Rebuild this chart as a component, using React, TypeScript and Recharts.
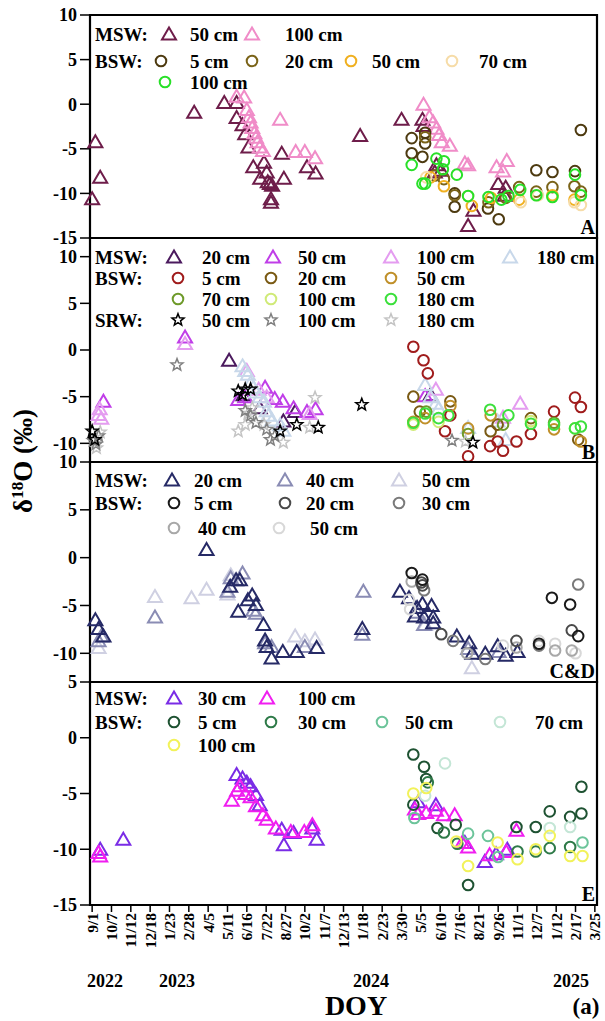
import React from "react";
import { ScatterChart, Scatter, XAxis, YAxis, ReferenceArea } from "recharts";

const FONT = '"Liberation Serif", "Times New Roman", serif';

// x = days since 9/1/2022, y = δ18O (‰)
const xTickDays = [0, 36, 72, 108, 144, 180, 216, 252, 288, 324, 360, 396, 432, 468, 504, 540, 576, 612, 648, 684, 720, 756, 792, 828, 864, 900, 936];
const xTickLabels = ["9/1", "10/7", "11/12", "12/18", "1/23", "2/28", "4/5", "5/11", "6/16", "7/22", "8/27", "10/2", "11/7", "12/13", "1/18", "2/23", "3/30", "5/5", "6/10", "7/16", "8/21", "9/26", "11/1", "12/7", "1/12", "2/17", "3/25"];
const X_DOMAIN = [-4, 940];

// ---- panel A
const aMsw50 = [[0, -10.6], [6, -4.2], [15, -8.2], [190, -0.9], [246, 0.2], [269, 0.2], [269, -1.5], [280, -2.3], [285, -3.3], [291, -4.8], [300, -7.0], [313, -8.3], [320, -6.5], [325, -7.6], [327, -8.7], [331, -8.9], [335, -9.1], [333, -10.6], [333, -11.0], [353, -5.5], [357, -8.3], [400, -7.0], [416, -7.7], [499, -3.5], [576, -1.7], [615, -1.7], [617, -2.4], [638, -7.6], [641, -6.8], [650, -7.4], [700, -13.6], [710, -11.9], [756, -8.9], [768, -10.2], [770, -9.3]];
const aMsw100 = [[269, 0.9], [283, 0.8], [288, -0.6], [292, -1.4], [295, -2.0], [298, -2.6], [302, -3.2], [305, -3.7], [308, -4.2], [312, -4.8], [318, -5.2], [350, -1.7], [379, -5.3], [396, -5.3], [415, -6.0], [617, 0.0], [628, -1.4], [635, -2.0], [641, -2.7], [646, -3.4], [651, -4.2], [666, -4.6], [694, -6.6], [700, -6.8], [753, -7.0], [765, -7.5], [772, -6.3]];
const aBsw5 = [[595, -3.8], [595, -5.5], [615, -5.9], [620, -3.2], [620, -4.4], [675, -10.0], [675, -11.5], [737, -11.7], [757, -12.9], [827, -7.4], [857, -7.6], [899, -7.5], [910, -2.9]];
const aBsw20 = [[620, -3.7], [638, -8.0], [655, -8.4], [675, -10.2], [738, -11.0], [770, -10.5], [795, -9.3], [827, -9.8], [857, -9.3], [898, -9.2], [910, -9.8]];
const aBsw50 = [[630, -8.2], [655, -9.2], [707, -11.4], [743, -10.5], [795, -10.7], [857, -10.2], [898, -10.7]];
const aBsw70 = [[622, -8.2], [700, -10.3], [798, -11.0], [830, -10.2], [898, -11.0], [910, -11.3]];
const aBsw100 = [[595, -6.8], [615, -8.9], [620, -8.9], [641, -6.1], [653, -7.3], [655, -6.4], [679, -7.9], [700, -10.3], [738, -10.4], [762, -10.7], [775, -10.3], [797, -9.6], [827, -10.2], [857, -10.4], [899, -7.9], [910, -10.2]];

// ---- panel B
const bMsw20 = [[255, -1.1], [282, -4.8], [312, -6.2], [356, -7.6], [378, -6.6], [630, -4.8]];
const bMsw50 = [[21, -5.5], [173, 1.4], [272, -5.3], [285, -5.0], [322, -4.0], [340, -5.2], [355, -5.5], [375, -6.2], [400, -6.6], [416, -6.3], [620, -4.9]];
const bMsw100 = [[12, -6.9], [14, -6.3], [17, -7.3], [173, 0.7], [288, -2.2], [310, -4.2], [325, -5.0], [405, -6.8], [640, -4.2], [765, -7.2], [797, -5.7]];
const bMsw180 = [[280, -1.7], [285, -2.2], [290, -2.6], [295, -3.5], [300, -4.0], [305, -4.5], [312, -5.0], [320, -5.5], [325, -6.5], [328, -7.0], [335, -7.5], [350, -8.0], [356, -8.6], [620, -3.7], [630, -5.0], [640, -5.7], [645, -6.3], [700, -8.3], [755, -7.6], [770, -9.6]];
const bBsw5 = [[598, 0.35], [617, -1.1], [625, -2.5], [657, -8.7], [667, -7.0], [700, -11.4], [741, -10.3], [755, -9.8], [765, -10.8], [790, -9.8], [817, -9.0], [860, -6.6], [899, -5.1], [910, -6.1]];
const bBsw20 = [[598, -5.0], [610, -6.6], [667, -5.5], [742, -8.7], [755, -8.0], [817, -7.3], [905, -9.6]];
const bBsw50 = [[598, -7.7], [620, -7.3], [667, -6.0], [700, -8.4], [742, -7.0], [860, -8.5], [910, -9.8]];
const bBsw70 = [[622, -6.6], [700, -9.0], [765, -8.0], [860, -7.8]];
const bBsw100 = [[598, -8.0], [645, -7.7], [817, -7.6], [899, -8.4]];
const bBsw180 = [[598, -7.8], [620, -6.8], [645, -7.3], [663, -7.0], [741, -6.4], [775, -7.0], [817, -7.9], [860, -8.0], [899, -8.4], [910, -8.2]];
const bSrw50 = [[0, -8.7], [5, -9.6], [272, -4.4], [280, -4.8], [285, -4.2], [295, -4.2], [350, -8.7], [381, -8.0], [421, -8.3], [502, -5.85], [709, -9.9]];
const bSrw100 = [[2, -9.7], [7, -10.1], [12, -9.2], [158, -1.6], [285, -6.5], [295, -7.0], [305, -7.8], [325, -8.5], [332, -9.6], [340, -9.2], [670, -9.7]];
const bSrw180 = [[8, -10.5], [15, -8.8], [272, -8.7], [285, -8.0], [290, -6.8], [298, -6.2], [320, -8.0], [356, -9.9], [405, -8.3], [415, -5.1], [695, -9.8]];

// ---- panel C&D
const cMsw20 = [[6, -6.5], [12, -7.4], [21, -8.2], [213, 0.85], [257, -3.0], [268, -2.3], [275, -2.3], [272, -5.6], [290, -4.4], [298, -3.9], [305, -4.9], [319, -7.0], [322, -8.6], [325, -9.3], [334, -10.5], [355, -9.8], [381, -9.8], [418, -9.4], [503, -7.4], [573, -3.5], [590, -4.2], [601, -6.1], [605, -5.2], [615, -4.8], [618, -6.2], [632, -5.0], [635, -6.2], [635, -6.8], [679, -8.2], [702, -8.9], [708, -10.0], [732, -10.0], [755, -9.2], [770, -10.2], [792, -9.8]];
const cMsw40 = [[12, -8.7], [17, -8.2], [117, -6.2], [252, -3.5], [258, -2.1], [280, -1.6], [300, -5.5], [305, -5.8], [322, -8.9], [334, -9.3], [396, -9.3], [503, -8.0], [505, -3.5], [605, -5.7], [618, -7.0], [700, -9.5], [757, -9.8]];
const cMsw50 = [[12, -9.4], [117, -4.05], [185, -4.2], [213, -3.3], [252, -3.8], [258, -1.8], [378, -8.2], [396, -8.7], [415, -8.5], [620, -7.0], [707, -11.5]];
const cBsw5 = [[595, -1.6], [615, -2.3], [832, -9.0], [856, -4.2], [890, -4.9], [905, -8.2]];
const cBsw20 = [[613, -2.6], [615, -2.9], [650, -8.0], [790, -8.7], [893, -7.6]];
const cBsw30 = [[618, -3.4], [672, -8.7], [732, -10.6], [832, -9.2], [905, -2.8]];
const cBsw40 = [[595, -2.5], [698, -10.0], [790, -9.4], [862, -9.7], [893, -9.7]];
const cBsw50 = [[590, -4.4], [592, -5.4], [765, -9.2], [832, -8.7], [862, -9.0], [900, -10.0]];

// ---- panel E
const eMsw30 = [[15, -10.0], [58, -9.1], [269, -3.3], [280, -3.6], [288, -4.0], [295, -4.3], [305, -5.1], [312, -6.0], [353, -8.2], [357, -9.6], [375, -8.5], [410, -8.1], [418, -9.1], [607, -5.75], [640, -6.0], [694, -9.4], [731, -11.1], [752, -10.4], [773, -10.0]];
const eMsw100 = [[12, -10.3], [15, -10.6], [260, -5.6], [270, -4.7], [275, -4.3], [285, -5.0], [295, -5.3], [305, -6.1], [318, -6.9], [325, -7.3], [342, -8.1], [370, -8.4], [395, -8.4], [410, -7.8], [601, -6.4], [607, -6.8], [622, -6.7], [640, -6.5], [655, -6.9], [675, -6.9], [689, -9.4], [700, -9.8], [740, -10.5], [771, -10.2], [790, -8.3]];
const eBsw5 = [[598, -1.5], [618, -2.6], [622, -3.7], [598, -6.0], [643, -8.1], [677, -7.8], [700, -13.2], [790, -8.0], [826, -8.0], [852, -6.6], [890, -7.1], [911, -4.4], [911, -6.8]];
const eBsw30 = [[625, -4.0], [655, -8.5], [680, -9.5], [792, -10.2], [826, -10.2], [852, -9.9], [890, -9.8]];
const eBsw50 = [[600, -7.2], [700, -8.6], [737, -8.8], [756, -10.7], [913, -9.4]];
const eBsw70 = [[620, -5.2], [657, -2.3], [852, -8.1], [890, -8.0]];
const eBsw100 = [[598, -5.0], [622, -4.5], [678, -9.3], [700, -11.5], [755, -9.4], [792, -10.9], [826, -10.0], [852, -8.8], [890, -10.6], [913, -10.6]];

type Kind = "tri" | "circ" | "star";

function Marker({ kind, cx, cy, color }: { kind: Kind; cx: number; cy: number; color: string }) {
  if (cx == null || cy == null) return null;
  if (kind === "tri") {
    const pts = `${cx},${cy - 6.5} ${cx + 7},${cy + 5.5} ${cx - 7},${cy + 5.5}`;
    return <polygon points={pts} fill="none" stroke={color} strokeWidth={2} />;
  }
  if (kind === "circ") {
    return <circle cx={cx} cy={cy} r={5.3} fill="none" stroke={color} strokeWidth={2} />;
  }
  const pts: string[] = [];
  for (let i = 0; i < 10; i++) {
    const r = i % 2 === 0 ? 6.3 : 2.7;
    const a = -Math.PI / 2 + (i * Math.PI) / 5;
    pts.push(`${cx + r * Math.cos(a)},${cy + r * Math.sin(a)}`);
  }
  return <polygon points={pts.join(" ")} fill="none" stroke={color} strokeWidth={1.5} />;
}

type Series = { data: number[][]; kind: Kind; color: string };

const panels = [
  {
    id: "A", top: 15, height: 223, domain: [-15, 10], ticks: [-15, -10, -5, 0, 5, 10],
    series: [
      { data: aMsw50, kind: "tri", color: "#6e1d4a" },
      { data: aMsw100, kind: "tri", color: "#f08cc8" },
      { data: aBsw5, kind: "circ", color: "#4d3a10" },
      { data: aBsw20, kind: "circ", color: "#7a6318" },
      { data: aBsw50, kind: "circ", color: "#f0b020" },
      { data: aBsw70, kind: "circ", color: "#f6dca8" },
      { data: aBsw100, kind: "circ", color: "#28e028" },
    ] as Series[],
  },
  {
    id: "B", top: 238, height: 224, domain: [-12, 12], ticks: [-10, -5, 0, 5, 10],
    series: [
      { data: bMsw20, kind: "tri", color: "#4b1a5e" },
      { data: bMsw50, kind: "tri", color: "#c03ee8" },
      { data: bMsw100, kind: "tri", color: "#e49cf0" },
      { data: bMsw180, kind: "tri", color: "#c8d8ea" },
      { data: bBsw5, kind: "circ", color: "#a01c1c" },
      { data: bBsw20, kind: "circ", color: "#7a5a14" },
      { data: bBsw50, kind: "circ", color: "#c0902a" },
      { data: bBsw70, kind: "circ", color: "#6e9a2a" },
      { data: bBsw100, kind: "circ", color: "#d0ea78" },
      { data: bBsw180, kind: "circ", color: "#3ce03c" },
      { data: bSrw180, kind: "star", color: "#c4c4c4" },
      { data: bSrw100, kind: "star", color: "#808080" },
      { data: bSrw50, kind: "star", color: "#000000" },
    ] as Series[],
  },
  {
    id: "C", top: 462, height: 220, domain: [-13, 10], ticks: [-10, -5, 0, 5, 10],
    series: [
      { data: cMsw50, kind: "tri", color: "#cfd0e2" },
      { data: cMsw40, kind: "tri", color: "#8a8cb4" },
      { data: cMsw20, kind: "tri", color: "#262a66" },
      { data: cBsw50, kind: "circ", color: "#d8d8d8" },
      { data: cBsw40, kind: "circ", color: "#a8a8a8" },
      { data: cBsw30, kind: "circ", color: "#7a7a7a" },
      { data: cBsw20, kind: "circ", color: "#4a4a4a" },
      { data: cBsw5, kind: "circ", color: "#1a1a1a" },
    ] as Series[],
  },
  {
    id: "E", top: 682, height: 223, domain: [-15, 5], ticks: [-15, -10, -5, 0, 5],
    series: [
      { data: eMsw30, kind: "tri", color: "#7a2ce6" },
      { data: eMsw100, kind: "tri", color: "#f01ef0" },
      { data: eBsw5, kind: "circ", color: "#1e5232" },
      { data: eBsw30, kind: "circ", color: "#2e7a48" },
      { data: eBsw50, kind: "circ", color: "#6cc49a" },
      { data: eBsw70, kind: "circ", color: "#c4e6d6" },
      { data: eBsw100, kind: "circ", color: "#f2f25a" },
    ] as Series[],
  },
];

// legend layout: [kind, color, symbolX, textX, y, label]
type LegItem = [Kind, string, number, number, number, string];
const legendHeads: [string, number][] = [
  ["MSW:", 34], ["BSW:", 61],
  ["MSW:", 257], ["BSW:", 278], ["SRW:", 320],
  ["MSW:", 480], ["BSW:", 503],
  ["MSW:", 698], ["BSW:", 722],
];
const legendItems: LegItem[] = [
  ["tri", "#6e1d4a", 169, 190, 34, "50 cm"],
  ["tri", "#f08cc8", 252, 285, 34, "100 cm"],
  ["circ", "#4d3a10", 161, 190, 61, "5 cm"],
  ["circ", "#7a6318", 252, 285, 61, "20 cm"],
  ["circ", "#f0b020", 351, 372, 61, "50 cm"],
  ["circ", "#f6dca8", 452, 479, 61, "70 cm"],
  ["circ", "#28e028", 165, 190, 82, "100 cm"],

  ["tri", "#4b1a5e", 174, 202, 257, "20 cm"],
  ["tri", "#c03ee8", 273, 298, 257, "50 cm"],
  ["tri", "#e49cf0", 391, 417, 257, "100 cm"],
  ["tri", "#c8d8ea", 510, 537, 257, "180 cm"],
  ["circ", "#a01c1c", 178, 202, 278, "5 cm"],
  ["circ", "#7a5a14", 271, 298, 278, "20 cm"],
  ["circ", "#c0902a", 391, 417, 278, "50 cm"],
  ["circ", "#6e9a2a", 178, 202, 299, "70 cm"],
  ["circ", "#d0ea78", 271, 298, 299, "100 cm"],
  ["circ", "#3ce03c", 391, 417, 299, "180 cm"],
  ["star", "#000000", 178, 202, 320, "50 cm"],
  ["star", "#808080", 271, 298, 320, "100 cm"],
  ["star", "#c4c4c4", 391, 417, 320, "180 cm"],

  ["tri", "#262a66", 172, 194, 480, "20 cm"],
  ["tri", "#8a8cb4", 285, 306, 480, "40 cm"],
  ["tri", "#cfd0e2", 399, 422, 480, "50 cm"],
  ["circ", "#1a1a1a", 174, 194, 503, "5 cm"],
  ["circ", "#4a4a4a", 285, 306, 503, "20 cm"],
  ["circ", "#7a7a7a", 399, 422, 503, "30 cm"],
  ["circ", "#a8a8a8", 174, 198, 528, "40 cm"],
  ["circ", "#d8d8d8", 279, 310, 528, "50 cm"],

  ["tri", "#7a2ce6", 174, 198, 698, "30 cm"],
  ["tri", "#f01ef0", 267, 298, 698, "100 cm"],
  ["circ", "#1e5232", 174, 198, 722, "5 cm"],
  ["circ", "#2e7a48", 271, 298, 722, "30 cm"],
  ["circ", "#6cc49a", 382, 405, 722, "50 cm"],
  ["circ", "#c4e6d6", 500, 535, 722, "70 cm"],
  ["circ", "#f2f25a", 174, 198, 745, "100 cm"],
];
const panelLetters: [string, number][] = [["A", 234], ["B", 459], ["C&D", 678], ["E", 901]];
const years: [string, number][] = [["2022", 105], ["2023", 177], ["2024", 371], ["2025", 571]];

const txt = { fontFamily: FONT, fontWeight: 700, fill: "#000" } as const;

function XTick(props: any) {
  const { x, y, payload } = props;
  const i = xTickDays.indexOf(payload.value);
  return (
    <text x={x} y={y} transform={`rotate(-90 ${x} ${y})`} textAnchor="end" dominantBaseline="central" fontSize={15.5} {...txt}>
      {xTickLabels[i]}
    </text>
  );
}

const PAD = 14;

function Panel({ p, showX }: { p: (typeof panels)[number]; showX: boolean }) {
  const xh = showX ? 58 : 0;
  return (
    <div style={{ position: "absolute", left: 0, top: p.top - PAD }}>
      <ScatterChart width={605} height={p.height + 2 * PAD + xh} margin={{ top: PAD, right: 8, bottom: PAD, left: 0 }}>
        <XAxis type="number" dataKey="x" domain={X_DOMAIN} ticks={xTickDays} interval={0} hide={!showX}
          height={xh} axisLine={false} tickSize={7} tickMargin={1} tickLine={{ stroke: "#000", strokeWidth: 1.5 }} tick={<XTick />} />
        <YAxis type="number" dataKey="y" domain={p.domain} ticks={p.ticks} interval={0} width={90}
          axisLine={false} tickSize={10} tickMargin={3} tickLine={{ stroke: "#000", strokeWidth: 1.5 }}
          tick={{ fontSize: 18, ...txt }} />
        {p.series.map((s, i) => (
          <Scatter key={i} data={s.data.map(([x, y]) => ({ x, y }))} isAnimationActive={false}
            shape={(sp: any) => <Marker kind={s.kind} cx={sp.cx} cy={sp.cy} color={s.color} />} />
        ))}
        <ReferenceArea x1={X_DOMAIN[0]} x2={X_DOMAIN[1]} y1={p.domain[0]} y2={p.domain[1]}
          fill="none" fillOpacity={0} stroke="#000" strokeWidth={2.2} ifOverflow="visible" />
      </ScatterChart>
    </div>
  );
}

export default function App() {
  return (
    <div style={{ position: "absolute", left: 0, top: 0, width: 605, height: 1021, background: "#fff" }}>
      {panels.map((p, i) => (
        <Panel key={p.id} p={p} showX={i === panels.length - 1} />
      ))}
      <svg width={605} height={1021} style={{ position: "absolute", left: 0, top: 0, pointerEvents: "none" }}>
        {legendHeads.map(([t, y], i) => (
          <text key={"h" + i} x={95} y={y} dominantBaseline="central" fontSize={19} {...txt}>{t}</text>
        ))}
        {legendItems.map(([k, c, sx, tx, y, label], i) => (
          <g key={"l" + i}>
            <Marker kind={k} cx={sx} cy={y} color={c} />
            <text x={tx} y={y} dominantBaseline="central" fontSize={19} {...txt}>{label}</text>
          </g>
        ))}
        {panelLetters.map(([t, y]) => (
          <text key={t} x={595} y={y} textAnchor="end" fontSize={20} {...txt}>{t}</text>
        ))}
        <text transform="translate(32 461) rotate(-90)" textAnchor="middle" fontSize={27} {...txt}>
          δ<tspan dy={-9} fontSize={17}>18</tspan><tspan dy={9}>O (‰)</tspan>
        </text>
        {years.map(([t, x]) => (
          <text key={t} x={x} y={987} textAnchor="middle" fontSize={18} {...txt}>{t}</text>
        ))}
        <text x={356} y={1015} textAnchor="middle" fontSize={28} {...txt}>DOY</text>
        <text x={586} y={1014} textAnchor="middle" fontSize={23} {...txt}>(a)</text>
      </svg>
    </div>
  );
}
